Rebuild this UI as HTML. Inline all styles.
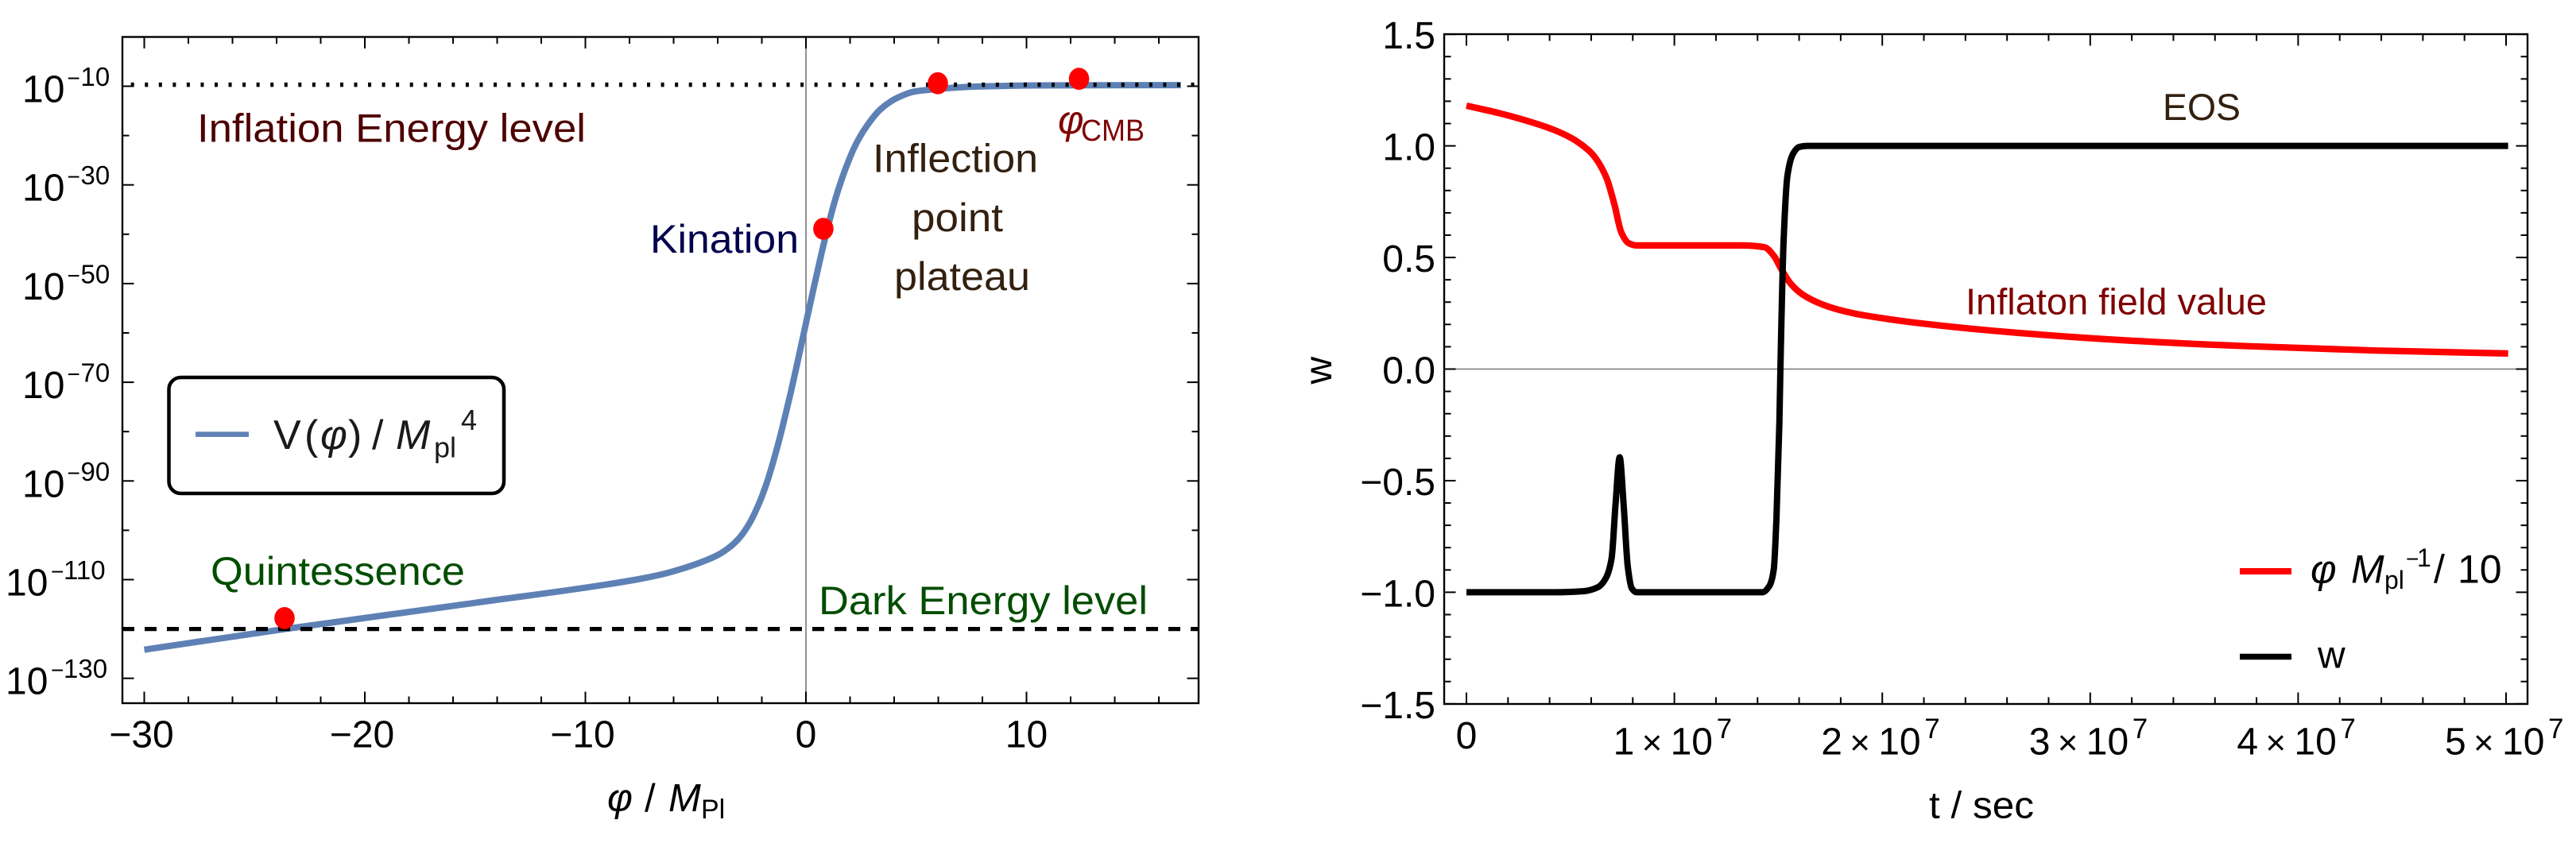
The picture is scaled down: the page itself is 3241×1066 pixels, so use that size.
<!DOCTYPE html>
<html lang="en">
<head>
<meta charset="utf-8">
<title>Inflaton potential and equation of state</title>
<style>
html,body{margin:0;padding:0;background:#fff;}
svg{display:block;}
text{font-family:"Liberation Sans",sans-serif;fill:#000;}
.it{font-style:italic;}
</style>
</head>
<body>
<svg id="chart" xmlns="http://www.w3.org/2000/svg" width="3241" height="1066" viewBox="0 0 3241 1066">
  <rect x="0" y="0" width="3241" height="1066" fill="#fff"/>
  <g id="left-plot"></g>
  <g id="right-plot"></g>

  <g>
    <text x="248" y="178.5" font-size="50" textLength="489" lengthAdjust="spacingAndGlyphs" style="fill:#4d0000">Inflation Energy level</text>
    <text x="1030" y="773" font-size="50" textLength="414" lengthAdjust="spacingAndGlyphs" style="fill:#004d00">Dark Energy level</text>
    <text x="265" y="736" font-size="50" textLength="320" lengthAdjust="spacingAndGlyphs" style="fill:#004d00">Quintessence</text>
    <text x="818" y="318" font-size="50" textLength="187" lengthAdjust="spacingAndGlyphs" style="fill:#00004d">Kination</text>
    <text x="1098" y="216.5" font-size="50" textLength="208" lengthAdjust="spacingAndGlyphs" style="fill:#33200f">Inflection</text>
    <text x="1147" y="291" font-size="50" textLength="115" lengthAdjust="spacingAndGlyphs" style="fill:#33200f">point</text>
    <text x="1125" y="365" font-size="50" textLength="171" lengthAdjust="spacingAndGlyphs" style="fill:#33200f">plateau</text>
    <text style="fill:#7f0505"><tspan class="it" x="1331" y="168" font-size="50">φ</tspan><tspan x="1360" y="177" font-size="38" textLength="80" lengthAdjust="spacingAndGlyphs">CMB</tspan></text>
    <text><tspan class="it" x="764" y="1021" font-size="49">φ</tspan><tspan x="811" y="1021" font-size="49">/</tspan><tspan class="it" x="841" y="1021" font-size="49">M</tspan><tspan x="882" y="1030" font-size="34">Pl</tspan></text>
  </g>

  <g>
    <rect x="212.5" y="475" width="421.5" height="146" rx="15" ry="15" fill="#fff" stroke="#000" stroke-width="4.5"/>
    <line x1="246" x2="313" y1="546.6" y2="546.6" stroke="#5e81b5" stroke-width="6.5"/>
    <text style="fill:#1a1a1a"><tspan x="344" y="565" font-size="52">V</tspan><tspan x="383" y="565" font-size="52">(</tspan><tspan class="it" x="403" y="565" font-size="52">φ</tspan><tspan x="438" y="565" font-size="52">)</tspan><tspan x="468" y="565" font-size="52">/</tspan><tspan class="it" x="498" y="565" font-size="52">M</tspan><tspan x="546" y="575.5" font-size="36">pl</tspan><tspan x="580" y="541" font-size="36">4</tspan></text>
  </g>

  <g>
    <text x="2721" y="151" font-size="47" textLength="98" lengthAdjust="spacingAndGlyphs" style="fill:#33200f">EOS</text>
    <text x="2473" y="395.5" font-size="46" textLength="379" lengthAdjust="spacingAndGlyphs" style="fill:#7f0000">Inflaton field value</text>
    <text x="2427" y="1029.5" font-size="47" textLength="132" lengthAdjust="spacingAndGlyphs">t / sec</text>
    <text transform="translate(1675 483.5) rotate(-90)" font-size="48">w</text>
  </g>

  <g>
    <line x1="2818" x2="2883" y1="719" y2="719" stroke="#ff0000" stroke-width="8"/>
    <text><tspan class="it" x="2907" y="733.5" font-size="50">φ</tspan><tspan class="it" x="2958" y="733.5" font-size="50">M</tspan><tspan x="3000" y="741" font-size="32">pl</tspan><tspan x="3027" y="713" font-size="28">−</tspan><tspan x="3041" y="713" font-size="32">1</tspan><tspan x="3062" y="733.5" font-size="50">/</tspan><tspan x="3092" y="733.5" font-size="50">10</tspan></text>
    <line x1="2818" x2="2883" y1="826.5" y2="826.5" stroke="#000" stroke-width="7.5"/>
    <text x="2916" y="840.5" font-size="48">w</text>
  </g>
</svg>

<script>
// ---- Left panel data ----
const potentialPhi = [-30,-23.6,-15,-7.7,-6.5,-5.55,-4.71,-3.99,-3.51,-3.03,-2.55,-2.13,-1.77,-1.47,-1.16,-0.93,-0.68,-0.44,-0.21,0.04,0.396,0.7,1.0,1.36,1.78,2.26,2.8,3.4,4.12,4.9,5.62,7.9,10.7,17];
const potentialLogV = [-124.2,-120,-114.7,-110,-108.9,-107.7,-106.4,-105,-103.6,-101.6,-98.5,-94.6,-90.3,-85.9,-80.8,-76.6,-71.9,-67.1,-62.4,-57.2,-50,-44,-38.4,-32.5,-26.9,-21.8,-17.8,-14.6,-12.4,-11.1,-10.7,-10.05,-9.84,-9.78];
const markerPhi = [-23.64,0.79,5.98,12.38];
const markerLogV = [-117.8,-38.9,-9.4,-8.5];
const inflationLevel = -9.7;
const darkEnergyLevel = -120;
const leftXMajorTicks = [-30,-20,-10,0,10];
const leftXMinorTicks = [-28,-26,-24,-22,-18,-16,-14,-12,-8,-6,-4,-2,2,4,6,8,12,14,16];
const leftYMajorTicks = [-10,-30,-50,-70,-90,-110,-130];
const leftYMinorTicks = [-20,-40,-60,-80,-100,-120];
const leftXLabels = ["−30","−20","−10","0","10"];
const leftYLabels = ["−10","−30","−50","−70","−90","−110","−130"];

// ---- Right panel data ----
const fieldTime = [0,0.156,0.331,0.42,0.507,0.56,0.604,0.672,0.711,0.745,0.78,0.818,1.326,1.433,1.482,1.51,1.56,1.617,1.716,1.79,1.872,2.0,2.122,2.53,3.146,3.76,4.377,5.01];
const fieldValue = [1.18,1.147,1.101,1.072,1.034,1.001,0.965,0.86,0.74,0.612,0.564,0.554,0.554,0.546,0.503,0.455,0.382,0.334,0.288,0.266,0.248,0.228,0.212,0.172,0.13,0.1025,0.083,0.07];
const eosTime = [0,0.428,0.565,0.633,0.672,0.698,0.717,0.737,0.756,0.776,0.795,0.818,1.423,1.458,1.478,1.491,1.505,1.51,1.525,1.544,1.57,1.6,1.638,5.01];
const eosValue = [-1,-1,-0.995,-0.977,-0.934,-0.849,-0.607,-0.395,-0.607,-0.885,-0.982,-1,-1,-0.97,-0.898,-0.668,-0.244,0,0.564,0.867,0.963,0.995,1,1];
const rightXMajorTicks = [0,1,2,3,4,5];
const rightXMinorTicks = [0.2,0.4,0.6,0.8,1.2,1.4,1.6,1.8,2.2,2.4,2.6,2.8,3.2,3.4,3.6,3.8,4.2,4.4,4.6,4.8];
const rightYMajorTicks = [-1.5,-1,-0.5,0,0.5,1,1.5];
const rightYMinorTicks = [-1.4,-1.3,-1.2,-1.1,-0.9,-0.8,-0.7,-0.6,-0.4,-0.3,-0.2,-0.1,0.1,0.2,0.3,0.4,0.6,0.7,0.8,0.9,1.1,1.2,1.3,1.4];
const rightXMantissas = ["1","2","3","4","5"];
const rightXExponent = "7";
const rightYLabels = ["−1.5","−1.0","−0.5","0.0","0.5","1.0","1.5"];

// ---- Axis functions ----
const leftX = v => 1014 + 27.75 * v;
const leftY = e => 108.5 + (-10 - e) * 6.21;
const rightX = t => 1845 + 261.6 * t;
const rightY = w => 464.5 - 280.9 * w;

const NS = 'http://www.w3.org/2000/svg';
function mk(parent, tag, attrs, txt) {
  const el = document.createElementNS(NS, tag);
  for (const k in attrs) el.setAttribute(k, attrs[k]);
  if (txt !== undefined) el.textContent = txt;
  parent.appendChild(el);
  return el;
}

// monotone cubic path through pixel points
function smoothPath(px, py) {
  const n = px.length, dx = [], m = [], t = [];
  for (let i = 0; i < n - 1; i++) { dx[i] = px[i+1] - px[i]; m[i] = (py[i+1] - py[i]) / dx[i]; }
  t[0] = m[0]; t[n-1] = m[n-2];
  for (let i = 1; i < n - 1; i++) {
    if (m[i-1] * m[i] <= 0) { t[i] = 0; continue; }
    const w1 = 2 * dx[i] + dx[i-1], w2 = dx[i] + 2 * dx[i-1];
    t[i] = (w1 + w2) / (w1 / m[i-1] + w2 / m[i]);
  }
  let d = 'M' + px[0].toFixed(2) + ' ' + py[0].toFixed(2);
  for (let i = 0; i < n - 1; i++) {
    const h = dx[i] / 3;
    d += 'C' + (px[i] + h).toFixed(2) + ' ' + (py[i] + t[i] * h).toFixed(2) + ' ' +
         (px[i+1] - h).toFixed(2) + ' ' + (py[i+1] - t[i+1] * h).toFixed(2) + ' ' +
         px[i+1].toFixed(2) + ' ' + py[i+1].toFixed(2);
  }
  return d;
}

const FW = 2.4, MAJ = 14.5, MIN = 8.5;

// ---- Left panel ----
const L = document.getElementById('left-plot');
const lBox = {l:154, t:46.5, r:1508, b:885};

const lVAxis = mk(L, 'line', {x1:leftX(0), x2:leftX(0), y1:lBox.t, y2:lBox.b, stroke:'#777', 'stroke-width':1.6});



const potentialCurve = mk(L, 'path', {d:smoothPath(potentialPhi.map(leftX), potentialLogV.map(leftY)), fill:'none', stroke:'#5e81b5', 'stroke-width':8});



const infLine = mk(L, 'line', {x1:lBox.l, x2:lBox.r, y1:leftY(inflationLevel), y2:leftY(inflationLevel), stroke:'#000', 'stroke-width':5.5, 'stroke-dasharray':'4 13.55', 'stroke-dashoffset':-10.7});



const deLine = mk(L, 'line', {x1:lBox.l, x2:lBox.r, y1:leftY(darkEnergyLevel), y2:leftY(darkEnergyLevel), stroke:'#000', 'stroke-width':5.2, 'stroke-dasharray':'15 13', 'stroke-dashoffset':0});



markerPhi.forEach((v, i) => {
  const dot = mk(L, 'ellipse', {cx:leftX(v), cy:leftY(markerLogV[i]), rx:12.8, ry:13.9, fill:'#ff0000'});
  
  
});

function ticks(parent, box, xFn, yFn, xMaj, xMin, yMaj, yMin, prefix) {
  const draw = (vals, isX, len) => vals.forEach(v => {
    const p = isX ? xFn(v) : yFn(v);
    const a = isX
      ? {x1:p, x2:p, y1:box.t, y2:box.t + len}
      : {x1:box.l, x2:box.l + len, y1:p, y2:p};
    const b = isX
      ? {x1:p, x2:p, y1:box.b, y2:box.b - len}
      : {x1:box.r, x2:box.r - len, y1:p, y2:p};
    [a, b].forEach(c => {
      c.stroke = '#000';
      c['stroke-width'] = 2;
      const tick = mk(parent, 'line', c);
      
      
    });
  });
  draw(xMaj, true, MAJ); draw(xMin, true, MIN);
  draw(yMaj, false, MAJ); draw(yMin, false, MIN);
}
ticks(L, lBox, leftX, leftY, leftXMajorTicks, leftXMinorTicks, leftYMajorTicks, leftYMinorTicks, 'potential');

const lFrame = mk(L, 'rect', {x:lBox.l, y:lBox.t, width:lBox.r - lBox.l, height:lBox.b - lBox.t, fill:'none', stroke:'#000', 'stroke-width':FW});



leftXMajorTicks.forEach((v, i) => {
  const raw = leftXLabels[i];
  const neg = raw[0] === '−';
  const lab = mk(L, 'text', {x:leftX(v) - (neg ? 3.5 : 0), y:940.5, 'font-size':48, 'text-anchor':'middle'}, raw);
  
  
});
leftYMajorTicks.forEach((e, i) => {
  const raw = leftYLabels[i];
  const wide = raw.length > 3;
  const y = leftY(e);
  const base = mk(L, 'text', {x:wide ? 7 : 28, y:y + 20, 'font-size':48}, '10');
  
  
  const minus = mk(L, 'text', {x:wide ? 64 : 84.5, y:y - 0.5, 'font-size':28}, raw.charAt(0));
  
  
  const sup = mk(L, 'text', {x:wide ? 80 : 101.5, y:y - 0.5, 'font-size':33}, raw.slice(1));
  
  
});

// ---- Right panel ----
const R = document.getElementById('right-plot');
const rBox = {l:1817, t:43, r:3180, b:886};

const rHAxis = mk(R, 'line', {x1:rBox.l, x2:rBox.r, y1:rightY(0), y2:rightY(0), stroke:'#777', 'stroke-width':1.6});



const fieldCurve = mk(R, 'path', {d:smoothPath(fieldTime.map(rightX), fieldValue.map(rightY)), fill:'none', stroke:'#ff0000', 'stroke-width':8.2});



const eosCurve = mk(R, 'path', {d:smoothPath(eosTime.map(rightX), eosValue.map(rightY)), fill:'none', stroke:'#000', 'stroke-width':8, 'stroke-linejoin':'bevel'});



ticks(R, rBox, rightX, rightY, rightXMajorTicks, rightXMinorTicks, rightYMajorTicks, rightYMinorTicks, 'eos');

const rFrame = mk(R, 'rect', {x:rBox.l, y:rBox.t, width:rBox.r - rBox.l, height:rBox.b - rBox.t, fill:'none', stroke:'#000', 'stroke-width':FW});



rightYMajorTicks.forEach((w, i) => {
  const lab = mk(R, 'text', {x:1806, y:rightY(w) + 18, 'font-size':48, 'text-anchor':'end'}, rightYLabels[i]);
  
  
});
const zeroLab = mk(R, 'text', {x:rightX(0), y:942, 'font-size':48, 'text-anchor':'middle'}, '0');


rightXMajorTicks.slice(1).forEach((t, i) => {
  const x0 = rightX(t);
  const g = mk(R, 'text', {y:949.7, 'font-size':48});
  
  
  mk(g, 'tspan', {x:x0 - 77}, rightXMantissas[i]);
  mk(g, 'tspan', {x:x0 - 41, 'font-size':44}, '×');
  mk(g, 'tspan', {x:x0 - 5}, '10');
  mk(g, 'tspan', {x:x0 + 53, y:929, 'font-size':35}, rightXExponent);
});
</script>
</body>
</html>
